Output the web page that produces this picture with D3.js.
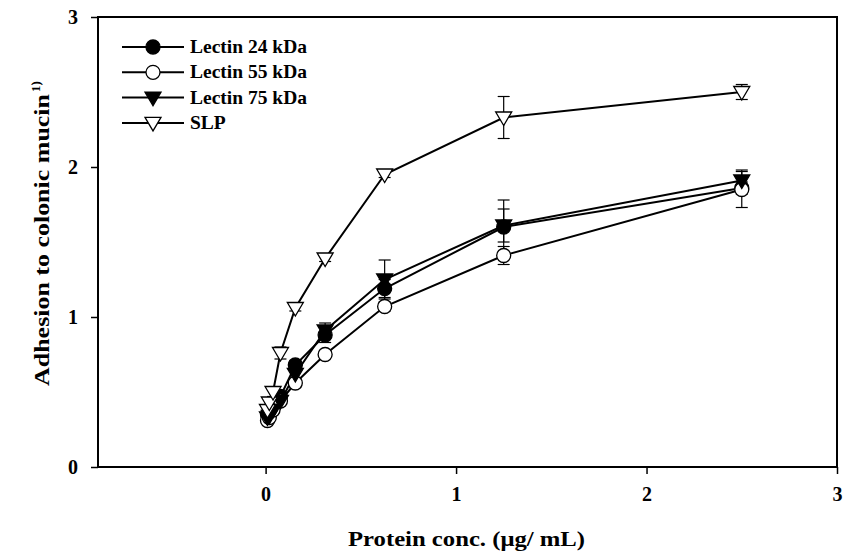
<!DOCTYPE html>
<html>
<head>
<meta charset="utf-8">
<script src="https://cdn.jsdelivr.net/npm/d3@7"></script>
<style>
  body { margin: 0; background: #fff; }
  text { font-family: "Liberation Serif", "Times New Roman", serif; font-weight: bold; }
</style>
</head>
<body>
<div id="chart"></div>
<script>
// protein concentration (ug/mL), two-fold dilutions
const conc = [0.0098, 0.0195, 0.039, 0.078, 0.156, 0.3125, 0.625, 1.25, 2.5];

const lectin24 = [0.35, 0.37, 0.41, 0.47, 0.68, 0.88, 1.19, 1.60, 1.86];
const lectin24Err = [0.02, 0.02, 0.02, 0.03, 0.03, 0.05, 0.06, 0.18, 0.04];
const lectin55 = [0.31, 0.33, 0.38, 0.44, 0.56, 0.75, 1.07, 1.41, 1.85];
const lectin55Err = [0.02, 0.02, 0.02, 0.02, 0.03, 0.02, 0.03, 0.06, 0.12];
const lectin75 = [0.33, 0.34, 0.38, 0.44, 0.62, 0.91, 1.25, 1.61, 1.91];
const lectin75Err = [0.02, 0.02, 0.02, 0.02, 0.03, 0.05, 0.13, 0.11, 0.07];
const slp = [0.38, 0.43, 0.50, 0.76, 1.06, 1.39, 1.95, 2.33, 2.50];
const slpErr = [0.02, 0.02, 0.03, 0.04, 0.02, 0.02, 0.02, 0.14, 0.05];

const seriesNames = ["Lectin 24 kDa", "Lectin 55 kDa", "Lectin 75 kDa", "SLP"];
const xTicks = [0, 1, 2, 3];
const yTicks = [0, 1, 2, 3];

const series = [
  {name: seriesNames[0], vals: lectin24, err: lectin24Err, shape: "circle", fill: "#000"},
  {name: seriesNames[1], vals: lectin55, err: lectin55Err, shape: "circle", fill: "#fff"},
  {name: seriesNames[2], vals: lectin75, err: lectin75Err, shape: "down", fill: "#000"},
  {name: seriesNames[3], vals: slp, err: slpErr, shape: "down", fill: "#fff"}
];

const width = 845, height = 553;
const margin = {top: 17, right: 8, bottom: 86, left: 98};
const w = width - margin.left - margin.right,
    h = height - margin.top - margin.bottom;

const svg = d3.select("#chart").append("svg")
    .attr("width", width)
    .attr("height", height);

const g = svg.append("g")
    .attr("transform", "translate(" + margin.left + "," + margin.top + ")");

let x = d3.scaleLinear().domain([-0.88, 3]).range([0, w]);
let y = d3.scaleLinear().domain([0, 3]).range([h, 0]);

// frame
g.append("rect")
    .attr("width", w).attr("height", h)
    .attr("fill", "none").attr("stroke", "#000").attr("stroke-width", 2);

let xAxis = g.append("g")
    .attr("transform", "translate(0," + h + ")")
    .call(d3.axisBottom(x).tickValues(xTicks).tickFormat(d3.format("d")).tickSize(7).tickPadding(13));
let yAxis = g.append("g")
    .call(d3.axisLeft(y).tickValues(yTicks).tickFormat(d3.format("d")).tickSize(7).tickPadding(13));
[xAxis, yAxis].forEach(function(a) {
    a.select(".domain").remove();
    a.selectAll("line").attr("stroke-width", 1.5);
    a.selectAll("text").attr("font-size", 20).attr("fill", "#000")
        .style("font-family", "'Liberation Serif', serif").style("font-weight", "bold");
});

const line = d3.line()
    .x(function(d) { return x(d[0]); })
    .y(function(d) { return y(d[1]); });

function drawMarker(sel, shape, fill) {
    if (shape === "circle") {
        sel.append("circle").attr("r", 7)
            .attr("fill", fill).attr("stroke", "#000").attr("stroke-width", 1.3);
    } else {
        sel.append("path").attr("d", "M-8,-5.5L8,-5.5L0,8Z")
            .attr("fill", fill).attr("stroke", "#000").attr("stroke-width", 1.3);
    }
}

// error bars
series.forEach(function(s) {
    const eb = g.append("g").attr("stroke", "#000").attr("stroke-width", 1.2);
    s.vals.forEach(function(v, i) {
        const cx = x(conc[i]);
        eb.append("line").attr("x1", cx).attr("x2", cx)
            .attr("y1", y(v - s.err[i])).attr("y2", y(v + s.err[i]));
        [v - s.err[i], v + s.err[i]].forEach(function(e) {
            eb.append("line").attr("x1", cx - 6).attr("x2", cx + 6)
                .attr("y1", y(e)).attr("y2", y(e));
        });
    });
});

// lines
series.forEach(function(s) {
    g.append("path")
        .datum(s.vals.map(function(v, i) { return [conc[i], v]; }))
        .attr("fill", "none").attr("stroke", "#000").attr("stroke-width", 2)
        .attr("d", line);
});

// markers
series.forEach(function(s) {
    s.vals.forEach(function(v, i) {
        const m = g.append("g").attr("transform", "translate(" + x(conc[i]) + "," + y(v) + ")");
        drawMarker(m, s.shape, s.fill);
    });
});

// legend
const legend = g.append("g").attr("transform", "translate(24,30)");
series.forEach(function(s, i) {
    const row = legend.append("g").attr("transform", "translate(0," + (i * 25.3) + ")");
    row.append("line").attr("x1", 0).attr("x2", 62).attr("stroke", "#000").attr("stroke-width", 2);
    drawMarker(row.append("g").attr("transform", "translate(31,0)"), s.shape, s.fill);
    row.append("text").attr("x", 68).attr("y", 6).attr("font-size", 19.5)
        .text(s.name);
});

// axis titles
svg.append("text")
    .attr("x", 348).attr("y", 546)
    .attr("font-size", 20)
    .attr("textLength", 237).attr("lengthAdjust", "spacingAndGlyphs")
    .text("Protein conc. (\u03bcg/ mL)");

const yt = svg.append("text")
    .attr("transform", "translate(49,386) rotate(-90)")
    .attr("font-size", 21);
yt.append("tspan").attr("textLength", 292).attr("lengthAdjust", "spacingAndGlyphs")
    .text("Adhesion to colonic mucin");
yt.append("tspan").attr("font-size", 13).attr("dy", -9).attr("dx", 2).text("1)");
</script>
</body>
</html>
